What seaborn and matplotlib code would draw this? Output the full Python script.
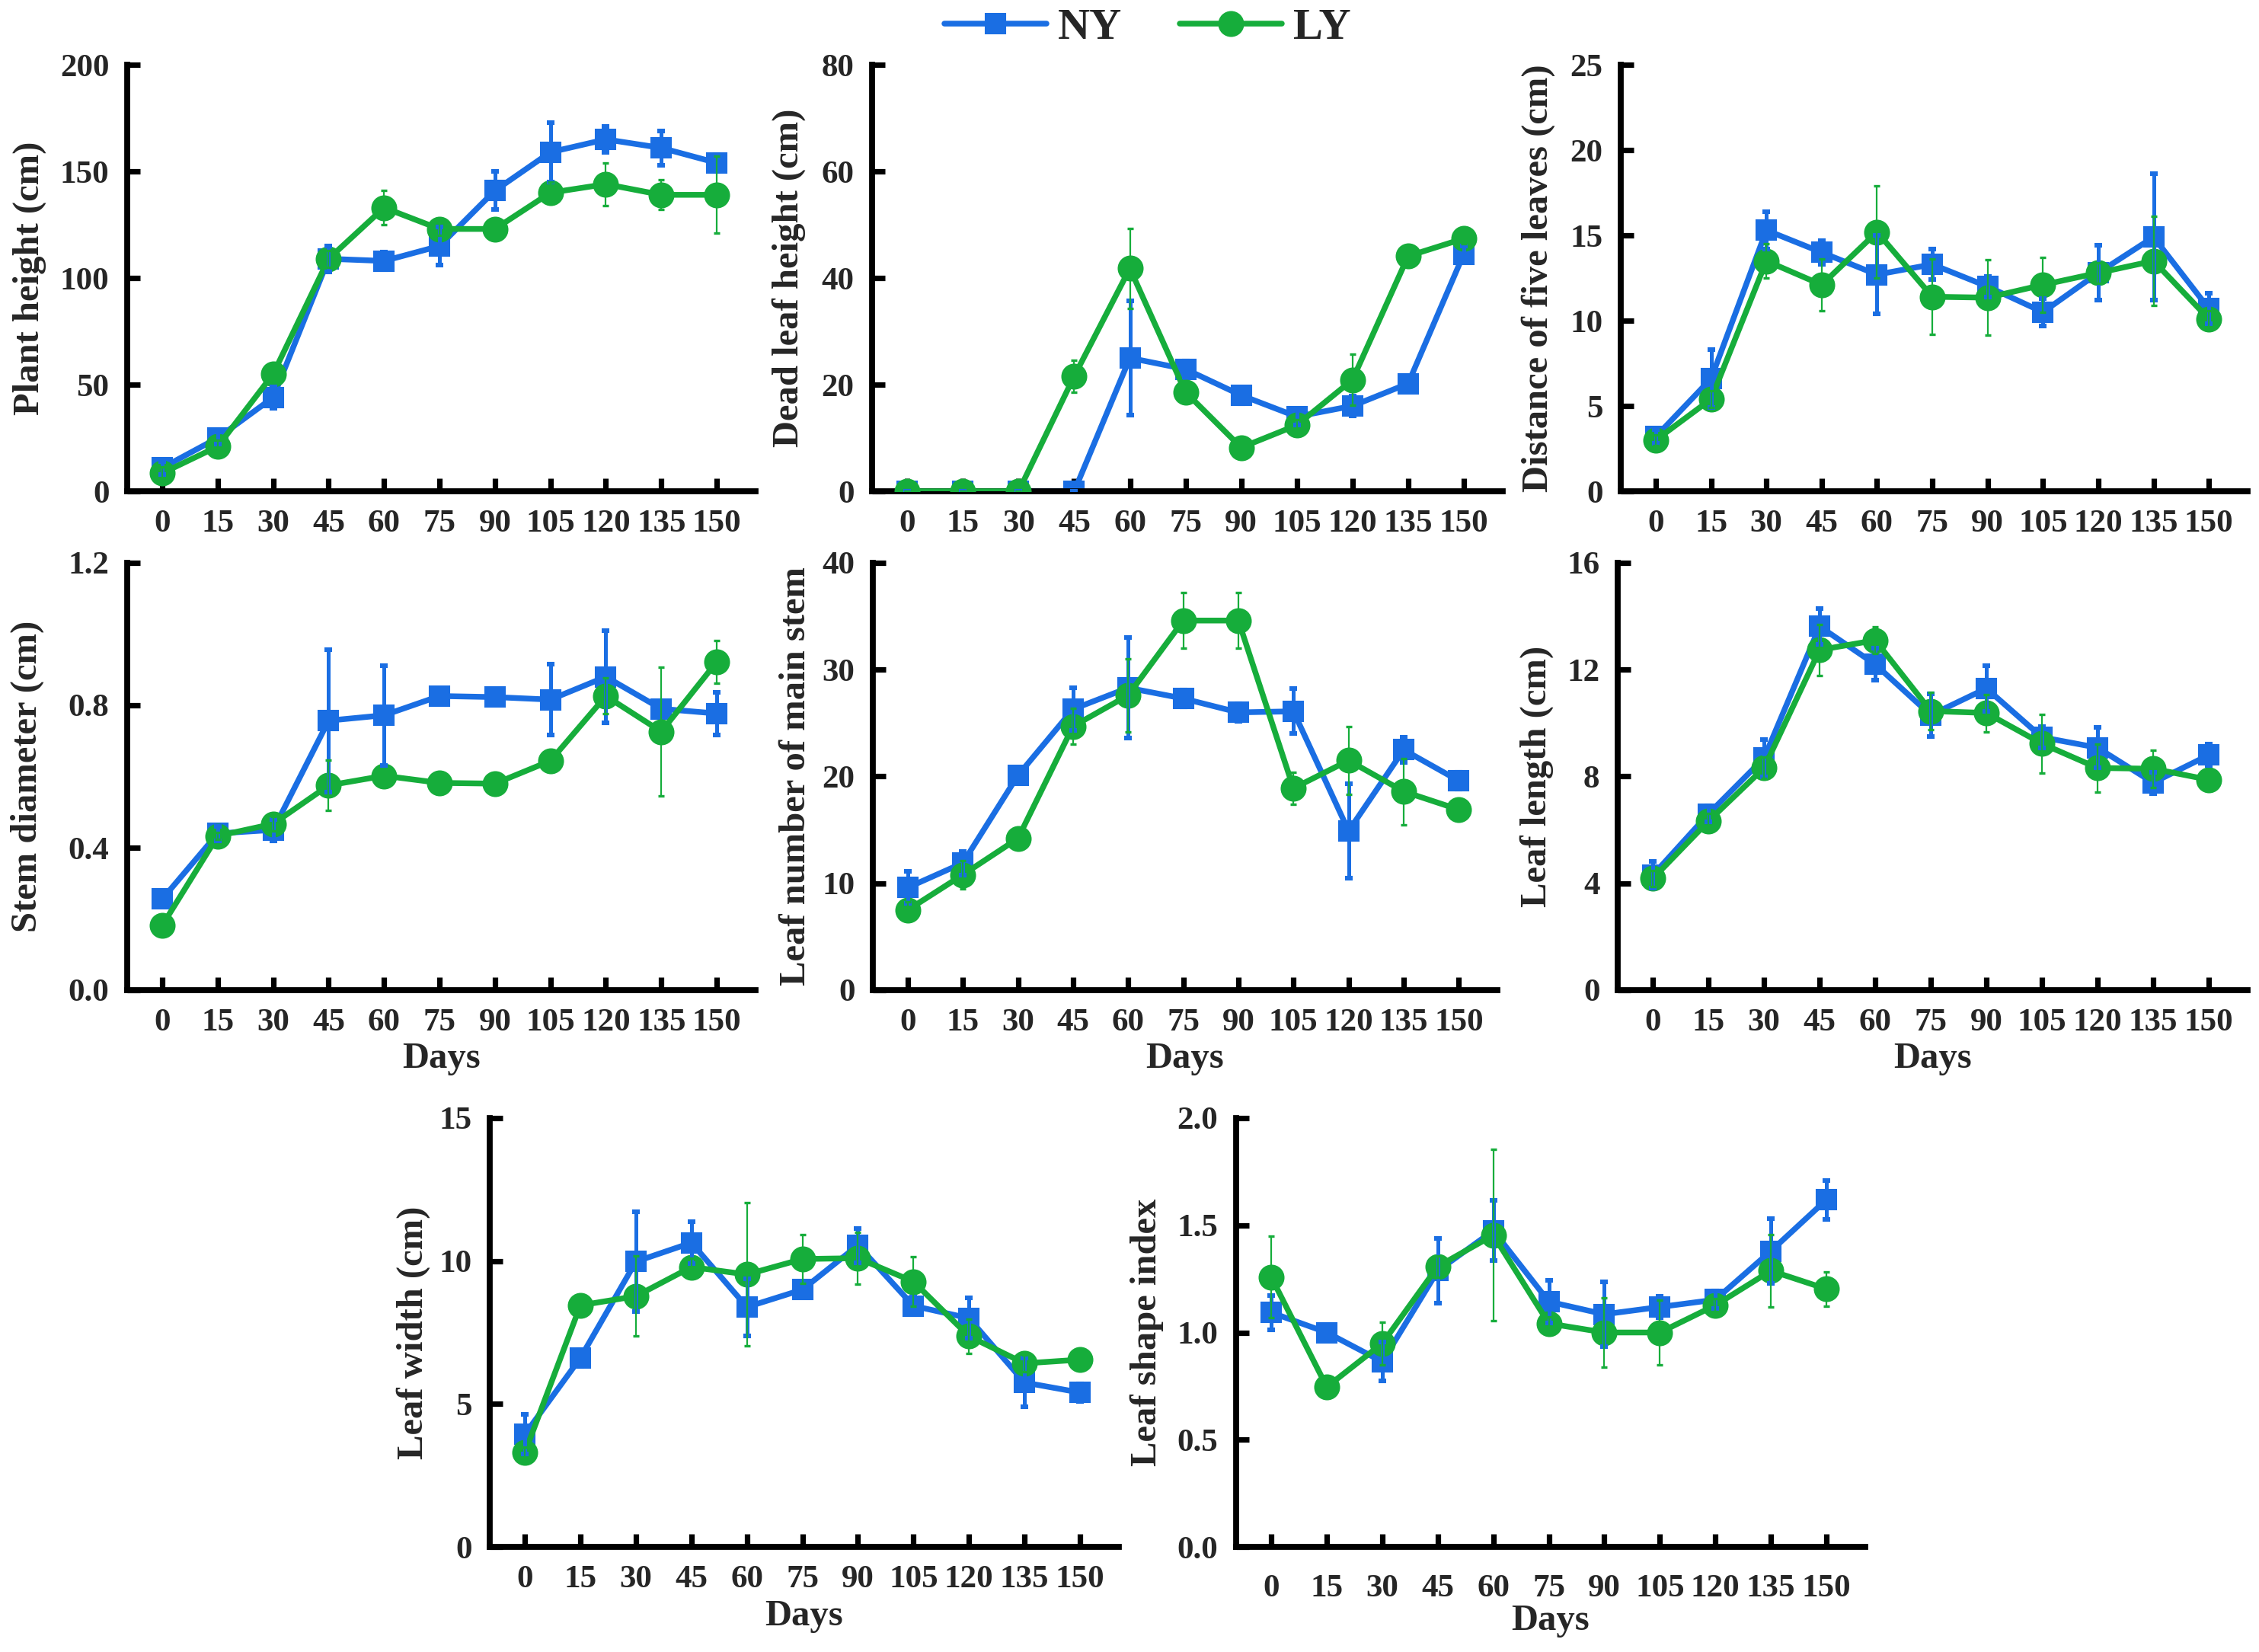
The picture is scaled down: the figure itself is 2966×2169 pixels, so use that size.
import matplotlib
matplotlib.use('Agg')
from matplotlib import pyplot as plt
import pandas as pd
import seaborn as sns


days = [0, 15, 30, 45, 60, 75, 90, 105, 120, 135, 150]

# plant height (cm)
height_ny = [11, 25, 44, 109, 108, 115, 141, 159, 165, 161, 154]
height_ny_err = [3, 3, 5, 6, 4, 9, 9, 14, 6, 8, 4]
height_ly = [8.5, 21, 55, 109, 133, 123, 123, 140, 144, 139, 139]
height_ly_err = [3, 3, 3, 4, 8, 3, 3, 5, 10, 7, 18]

# dead leaf height (cm)
dead_ny = [0, 0, 0, 0, 25, 22.9, 18, 14, 16, 20.2, 44.5]
dead_ny_err = [0, 0, 0, 0, 10.7, 1.5, 1.5, 1.5, 1.8, 1.3, 1.5]
dead_ly = [0, 0, 0, 21.6, 41.8, 18.6, 8.2, 12.4, 20.9, 44.1, 47.4]
dead_ly_err = [0, 0, 0, 3, 7.5, 1.2, 1, 1, 4.8, 1, 1]

# distance of five leaves (cm)
dist_ny = [3.2, 6.6, 15.3, 14.0, 12.7, 13.3, 12.0, 10.5, 12.8, 14.9, 10.7]
dist_ny_err = [0.4, 1.7, 1.1, 0.7, 2.3, 0.9, 0.6, 0.8, 1.6, 3.7, 0.9]
dist_ly = [3.0, 5.4, 13.5, 12.1, 15.2, 11.4, 11.35, 12.1, 12.8, 13.5, 10.1]
dist_ly_err = [0.3, 0.5, 1.0, 1.5, 2.7, 2.2, 2.2, 1.6, 0.6, 2.6, 0.5]

# stem diameter (cm)
stem_ny = [0.256, 0.44, 0.45, 0.757, 0.772, 0.826, 0.823, 0.816, 0.88, 0.79, 0.777]
stem_ny_err = [0.01, 0.02, 0.03, 0.2, 0.14, 0.02, 0.02, 0.1, 0.13, 0.02, 0.06]
stem_ly = [0.182, 0.433, 0.467, 0.575, 0.602, 0.582, 0.58, 0.644, 0.826, 0.726, 0.922]
stem_ly_err = [0.01, 0.01, 0.02, 0.07, 0.01, 0.01, 0.01, 0.01, 0.05, 0.18, 0.06]

# leaf number of main stem
leafnum_ny = [9.6, 11.9, 20.1, 26.3, 28.3, 27.3, 26.0, 26.1, 14.9, 22.5, 19.6]
leafnum_ny_err = [1.5, 1.1, 0.5, 2.0, 4.7, 0.8, 0.8, 2.1, 4.4, 1.2, 0.8]
leafnum_ly = [7.5, 10.8, 14.2, 24.7, 27.6, 34.6, 34.6, 18.9, 21.5, 18.6, 16.9]
leafnum_ly_err = [0.8, 1.3, 0.5, 1.7, 3.4, 2.6, 2.6, 1.5, 3.2, 3.1, 0.4]

# leaf length (cm)
length_ny = [4.31, 6.6, 8.69, 13.62, 12.2, 10.3, 11.3, 9.47, 9.08, 7.77, 8.8]
length_ny_err = [0.5, 0.3, 0.7, 0.68, 0.6, 0.8, 0.85, 0.4, 0.75, 0.4, 0.4]
length_ly = [4.18, 6.33, 8.32, 12.74, 13.1, 10.45, 10.38, 9.23, 8.32, 8.29, 7.88]
length_ly_err = [0.3, 0.3, 0.4, 0.95, 0.5, 0.7, 0.7, 1.1, 0.9, 0.7, 0.2]

# leaf width (cm)
width_ny = [3.94, 6.61, 9.98, 10.64, 8.39, 9.0, 10.55, 8.43, 8.0, 5.75, 5.4]
width_ny_err = [0.7, 0.3, 1.75, 0.74, 1.0, 0.2, 0.6, 0.3, 0.7, 0.85, 0.3]
width_ly = [3.3, 8.45, 8.77, 9.79, 9.53, 10.07, 10.1, 9.28, 7.37, 6.42, 6.55]
width_ly_err = [0.2, 0.2, 1.4, 0.3, 2.5, 0.86, 0.9, 0.86, 0.6, 0.3, 0.2]

# leaf shape index
shape_ny = [1.093, 1.0, 0.864, 1.288, 1.475, 1.144, 1.085, 1.119, 1.153, 1.38, 1.619]
shape_ny_err = [0.08, 0.03, 0.09, 0.15, 0.14, 0.1, 0.15, 0.05, 0.04, 0.15, 0.09]
shape_ly = [1.258, 0.746, 0.949, 1.308, 1.454, 1.042, 1.0, 1.0, 1.127, 1.288, 1.203]
shape_ly_err = [0.19, 0.02, 0.1, 0.05, 0.4, 0.03, 0.16, 0.15, 0.03, 0.17, 0.08]

BLUE = '#1a6ee3'
GREEN = '#16ad3b'
W, H = 2966, 2169

sns.set_style('ticks')
plt.rcParams['font.family'] = ['Liberation Serif', 'DejaVu Serif']
plt.rcParams['font.weight'] = 'bold'
plt.rcParams['axes.labelweight'] = 'bold'

# (label, ny, ny_err, ly, ly_err, ymax, yticks, fmt, [left, top, right, bottom] px, ylabel x, xlabel)
panels = [
    ('Plant height (cm)', height_ny, height_ny_err, height_ly, height_ly_err,
     200, [0, 50, 100, 150, 200], '{:.0f}', [167, 85, 992, 645], 0.128, False),
    ('Dead leaf height (cm)', dead_ny, dead_ny_err, dead_ly, dead_ly_err,
     80, [0, 20, 40, 60, 80], '{:.0f}', [1145, 85, 1973, 645], 0.105, False),
    ('Distance of five leaves (cm)', dist_ny, dist_ny_err, dist_ly, dist_ly_err,
     25, [0, 5, 10, 15, 20, 25], '{:.0f}', [2128, 85, 2951, 645], 0.105, False),
    ('Stem diameter (cm)', stem_ny, stem_ny_err, stem_ly, stem_ly_err,
     1.2, [0, 0.4, 0.8, 1.2], '{:.1f}', [167, 739, 992, 1300], 0.132, True),
    ('Leaf number of main stem', leafnum_ny, leafnum_ny_err, leafnum_ly, leafnum_ly_err,
     40, [0, 10, 20, 30, 40], '{:.0f}', [1146, 739, 1966, 1300], 0.096, True),
    ('Leaf length (cm)', length_ny, length_ny_err, length_ly, length_ly_err,
     16, [0, 4, 8, 12, 16], '{:.0f}', [2124, 739, 2951, 1300], 0.101, True),
    ('Leaf width (cm)', width_ny, width_ny_err, width_ly, width_ly_err,
     15, [0, 5, 10, 15], '{:.0f}', [643, 1468, 1469, 2031], 0.094, True),
    ('Leaf shape index', shape_ny, shape_ny_err, shape_ly, shape_ly_err,
     2.0, [0, 0.5, 1.0, 1.5, 2.0], '{:.1f}', [1623, 1468, 2449, 2031], 0.115, True),
]

fig = plt.figure(figsize=(W / 200, H / 200), dpi=200)

handles = None
for i, (label, ny, ny_err, ly, ly_err, ymax, yticks, fmt, box, ylx, show_x) in enumerate(panels):
    l, t, r, b = box
    ax = fig.add_axes([l / W, 1 - b / H, (r - l) / W, (b - t) / H])
    df = pd.DataFrame({'Days': days + days,
                       'value': ny + ly,
                       'group': ['NY'] * len(days) + ['LY'] * len(days)})
    sns.lineplot(data=df[df.group == 'NY'], x='Days', y='value', ax=ax, color=BLUE,
                 marker='s', markersize=9.5, markeredgecolor=BLUE, linewidth=2.7,
                 label='NY', legend=False, zorder=2)
    sns.lineplot(data=df[df.group == 'LY'], x='Days', y='value', ax=ax, color=GREEN,
                 marker='o', markersize=11.5, markeredgecolor=GREEN, linewidth=2.7,
                 label='LY', legend=False, zorder=3)
    ax.errorbar(days, ny, yerr=ny_err, fmt='none', ecolor=BLUE, elinewidth=1.8,
                capsize=1.8, capthick=2.2, zorder=4)
    ax.errorbar(days, ly, yerr=ly_err, fmt='none', ecolor=GREEN, elinewidth=0.8,
                capsize=1.6, capthick=1.2, zorder=4)
    if handles is None:
        handles = ax.get_lines()[:2]

    ax.set_xlim(-9.5, 160.5)
    ax.set_ylim(0, ymax)
    ax.set_xticks(days)
    ax.set_xticklabels([str(d) for d in days])
    ax.set_yticks(yticks)
    ax.set_yticklabels([fmt.format(v) for v in yticks])
    sns.despine(ax=ax)
    for side in ['left', 'bottom']:
        ax.spines[side].set_linewidth(2.8)
        ax.spines[side].set_color('black')
    ax.tick_params(axis='both', direction='in', length=6.2, width=2.6, color='black',
                   labelsize=15.5, pad=8.5)
    if i == 7:
        ax.tick_params(axis='x', pad=13)
    for lab in ax.get_xticklabels() + ax.get_yticklabels():
        lab.set_fontweight('bold')

    ax.set_ylabel(label, fontsize=17.5, fontweight='bold')
    ax.yaxis.set_label_coords(-ylx, 0.5)
    if show_x:
        ax.set_xlabel('Days', fontsize=17.5, fontweight='bold')
        ax.xaxis.set_label_coords(0.5, -0.122 if i != 7 else -0.134)
    else:
        ax.set_xlabel('')

fig.legend(handles=handles, labels=['NY', 'LY'], loc='center',
           bbox_to_anchor=(0.508, 0.983), ncol=2, frameon=False,
           prop={'family': 'Liberation Serif', 'weight': 'bold', 'size': 21},
           handlelength=2.3, handletextpad=0.25, columnspacing=1.3)

fig.savefig('out.png', dpi=200)
